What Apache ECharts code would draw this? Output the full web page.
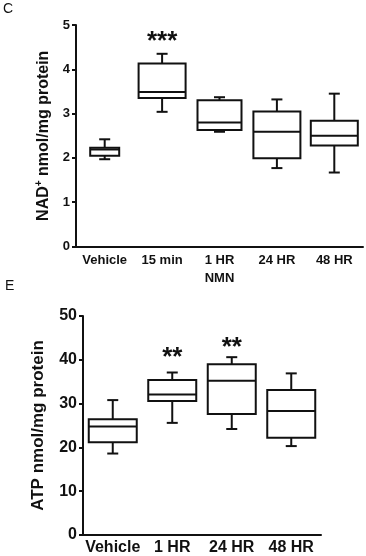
<!DOCTYPE html>
<html>
<head>
<meta charset="utf-8">
<script src="https://cdn.jsdelivr.net/npm/echarts@6/dist/echarts.min.js"></script>
<style>
html,body{margin:0;padding:0;background:#fff;}
#chart{width:366px;height:556px;}
</style>
</head>
<body>
<div id="chart"></div>
<script>
// ---- Panel C: NAD+ ----
const categoriesC = ['Vehicle', '15 min', '1 HR', '24 HR', '48 HR'];
const minC    = [1.97, 3.04, 2.59, 1.77, 1.67];
const q1C     = [2.05, 3.35, 2.63, 1.99, 2.28];
const medianC = [2.19, 3.49, 2.80, 2.59, 2.50];
const q3C     = [2.23, 4.13, 3.30, 3.05, 2.84];
const maxC    = [2.42, 4.35, 3.37, 3.32, 3.45];
const sigC      = ['', '***', '', '', ''];
const sigLevelC = [null, 4.75, null, null, null];
const ticksC = [0, 1, 2, 3, 4, 5];

// ---- Panel E: ATP ----
const categoriesE = ['Vehicle', '1 HR', '24 HR', '48 HR'];
const minE    = [18.6, 25.6, 24.2, 20.3];
const q1E     = [21.2, 30.6, 27.6, 22.2];
const medianE = [24.8, 32.1, 35.2, 28.3];
const q3E     = [26.4, 35.4, 39.0, 33.1];
const maxE    = [30.8, 37.1, 40.6, 36.9];
const sigE      = ['', '**', '**', ''];
const sigLevelE = [null, 41.8, 44.0, null];
const ticksE = [0, 10, 20, 30, 40, 50];

// ---- styles ----
const FONT = '"Liberation Sans", Arial, sans-serif';
const INK = '#111';
const boxWidthC = [29, 47, 44, 47, 47];
const boxWidthE = [48, 48, 48, 48];
const CAP = 11;

function boxData(mins, q1s, meds, q3s, maxs) {
  return mins.map((m, i) => [i, m, q1s[i], meds[i], q3s[i], maxs[i]]);
}
function sigData(levels, labels) {
  const out = [];
  levels.forEach((v, i) => { if (v != null) out.push([i, v, labels[i]]); });
  return out;
}
function makeBoxRender(widths) {
  return function (params, api) {
    const i = api.value(0);
    const x = api.coord([i, 0])[0];
    const yMin = api.coord([i, api.value(1)])[1];
    const yQ1 = api.coord([i, api.value(2)])[1];
    const yMed = api.coord([i, api.value(3)])[1];
    const yQ3 = api.coord([i, api.value(4)])[1];
    const yMax = api.coord([i, api.value(5)])[1];
    const w = widths[params.dataIndex];
    const st = { stroke: INK, lineWidth: 2, fill: null };
    return {
      type: 'group',
      children: [
        { type: 'line', shape: { x1: x, y1: yMax, x2: x, y2: yQ3 }, style: st },
        { type: 'line', shape: { x1: x, y1: yQ1, x2: x, y2: yMin }, style: st },
        { type: 'line', shape: { x1: x - CAP / 2, y1: yMax, x2: x + CAP / 2, y2: yMax }, style: st },
        { type: 'line', shape: { x1: x - CAP / 2, y1: yMin, x2: x + CAP / 2, y2: yMin }, style: st },
        { type: 'rect', shape: { x: x - w / 2, y: yQ3, width: w, height: yQ1 - yQ3 }, style: { stroke: INK, lineWidth: 2, fill: '#fff' } },
        { type: 'line', shape: { x1: x - w / 2, y1: yMed, x2: x + w / 2, y2: yMed }, style: st }
      ]
    };
  };
}
function sigRender(params, api) {
  const p = api.coord([api.value(0), api.value(1)]);
  return {
    type: 'text',
    x: p[0], y: p[1] + 6,
    style: {
      text: api.value(2), fill: INK, font: 'bold 26px ' + FONT,
      align: 'center', verticalAlign: 'middle'
    }
  };
}

const axisLineStyle = { show: true, lineStyle: { color: INK, width: 2 } };

const option = {
  backgroundColor: '#fff',
  animation: false,
  title: [
    { text: 'C', left: 3, top: 2, padding: 0, textStyle: { fontFamily: FONT, fontSize: 14, fontWeight: 'normal', color: INK } },
    { text: 'E', left: 5, top: 279, padding: 0, textStyle: { fontFamily: FONT, fontSize: 14, fontWeight: 'normal', color: INK } }
  ],
  grid: [
    { left: 76, top: 25, width: 287, height: 221.5 },
    { left: 83, top: 316, width: 238, height: 222 }
  ],
  xAxis: [
    {
      gridIndex: 0, type: 'category', data: categoriesC, boundaryGap: true,
      axisLine: axisLineStyle, axisTick: { show: false },
      axisLabel: { interval: 0, margin: 7, color: INK, fontFamily: FONT, fontWeight: 'bold', fontSize: 13 },
      name: 'NMN', nameLocation: 'middle', nameGap: 25,
      nameTextStyle: { color: INK, fontFamily: FONT, fontWeight: 'bold', fontSize: 13 },
      splitLine: { show: false }
    },
    {
      gridIndex: 1, type: 'category', data: categoriesE, boundaryGap: true,
      axisLine: axisLineStyle, axisTick: { show: false },
      axisLabel: { interval: 0, margin: 5, color: INK, fontFamily: FONT, fontWeight: 'bold', fontSize: 16 },
      splitLine: { show: false }
    }
  ],
  yAxis: [
    {
      gridIndex: 0, type: 'value', min: ticksC[0], max: ticksC[ticksC.length - 1], interval: ticksC[1] - ticksC[0],
      axisLine: axisLineStyle,
      axisTick: { show: true, length: 4, lineStyle: { color: INK, width: 2 } },
      axisLabel: { margin: 6, color: INK, fontFamily: FONT, fontWeight: 'bold', fontSize: 13 },
      splitLine: { show: false },
      name: '{b|NAD}{s|+}{b| nmol/mg protein}', nameLocation: 'middle', nameRotate: 90, nameGap: 23,
      nameTextStyle: {
        rich: {
          b: { fontFamily: FONT, fontWeight: 'bold', fontSize: 16, color: INK, verticalAlign: 'bottom' },
          s: { fontFamily: FONT, fontWeight: 'bold', fontSize: 10, color: INK, verticalAlign: 'top', padding: [0, 0, 8, 0] }
        }
      }
    },
    {
      gridIndex: 1, type: 'value', min: ticksE[0], max: ticksE[ticksE.length - 1], interval: ticksE[1] - ticksE[0],
      axisLine: axisLineStyle,
      axisTick: { show: true, length: 4, lineStyle: { color: INK, width: 2 } },
      axisLabel: { margin: 6, color: INK, fontFamily: FONT, fontWeight: 'bold', fontSize: 16 },
      splitLine: { show: false },
      name: 'ATP nmol/mg protein', nameLocation: 'middle', nameRotate: 90, nameGap: 36,
      nameTextStyle: { fontFamily: FONT, fontWeight: 'bold', fontSize: 17, color: INK }
    }
  ],
  series: [
    {
      type: 'custom', xAxisIndex: 0, yAxisIndex: 0,
      data: boxData(minC, q1C, medianC, q3C, maxC),
      encode: { x: 0, y: [1, 2, 3, 4, 5] },
      renderItem: makeBoxRender(boxWidthC), silent: true
    },
    {
      type: 'custom', xAxisIndex: 0, yAxisIndex: 0,
      data: sigData(sigLevelC, sigC),
      encode: { x: 0, y: 1 },
      renderItem: sigRender, silent: true
    },
    {
      type: 'custom', xAxisIndex: 1, yAxisIndex: 1,
      data: boxData(minE, q1E, medianE, q3E, maxE),
      encode: { x: 0, y: [1, 2, 3, 4, 5] },
      renderItem: makeBoxRender(boxWidthE), silent: true
    },
    {
      type: 'custom', xAxisIndex: 1, yAxisIndex: 1,
      data: sigData(sigLevelE, sigE),
      encode: { x: 0, y: 1 },
      renderItem: sigRender, silent: true
    }
  ]
};

const chart = echarts.init(document.getElementById('chart'), null, { renderer: 'canvas' });
chart.setOption(option);
</script>
</body>
</html>
